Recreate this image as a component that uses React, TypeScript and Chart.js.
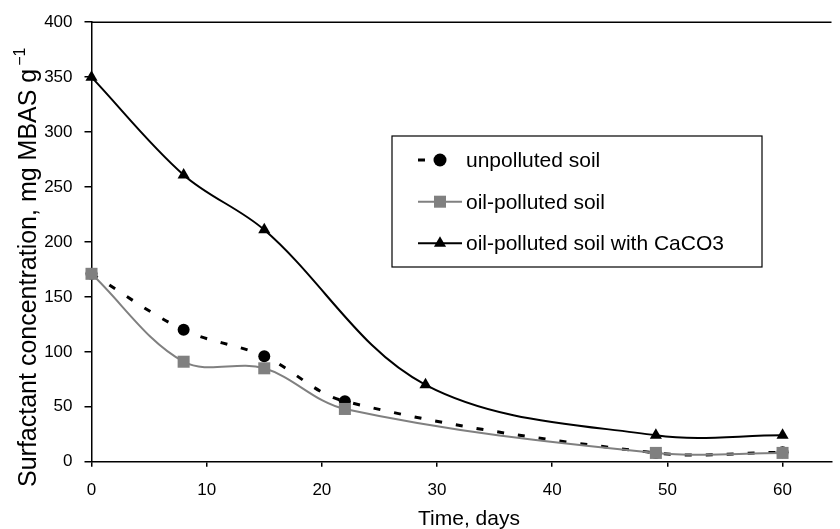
import React, { useEffect, useRef } from 'react';
import { Chart, registerables } from 'chart.js';

Chart.register(...registerables);

// ---- data ----
const unpollutedDays = [0, 8, 15, 22, 49, 60];
const unpollutedValues = [171, 120, 96, 55, 8, 8.5];
const oilDays = [0, 8, 15, 22, 49, 60];
const oilValues = [171, 91, 85, 48, 8, 8];
const caco3Days = [0, 8, 15, 29, 49, 60];
const caco3Values = [350, 261, 211, 70, 24, 24];
const seriesLabels = ['unpolluted soil', 'oil-polluted soil', 'oil-polluted soil with CaCO3'];
const xTitle = 'Time, days';
const yTitle = 'Surfactant concentration, mg MBAS g';
const yTitleSup = '−1';

const FONT = '"Liberation Sans", Arial, Helvetica, sans-serif';
const GREY = '#808080';

function toPoints(xs: number[], ys: number[]) {
  return xs.map((x, i) => ({ x, y: ys[i] }));
}

export default function App() {
  const ref = useRef<HTMLCanvasElement>(null);

  useEffect(() => {
    document.body.style.margin = '0';
    const canvas = ref.current;
    if (!canvas) return;

    const decor = {
      id: 'decor',
      afterDraw(chart: any) {
        const ctx = chart.ctx as CanvasRenderingContext2D;
        const a = chart.chartArea;
        ctx.save();
        // top frame line
        ctx.strokeStyle = '#000';
        ctx.lineWidth = 1.5;
        ctx.beginPath();
        ctx.moveTo(a.left, a.top);
        ctx.lineTo(a.right, a.top);
        ctx.stroke();

        // legend box
        const bx = 392, by = 136, bw = 370, bh = 131;
        ctx.fillStyle = '#fff';
        ctx.fillRect(bx, by, bw, bh);
        ctx.strokeStyle = '#000';
        ctx.lineWidth = 1.2;
        ctx.strokeRect(bx, by, bw, bh);

        const rows = [160, 201.7, 243.3];
        const lx0 = 418, lx1 = 462, mx = 440;
        ctx.font = `21px ${FONT}`;
        ctx.textAlign = 'left';
        ctx.textBaseline = 'alphabetic';
        rows.forEach((ry, i) => {
          ctx.save();
          let end = lx1;
          if (i === 0) {
            ctx.strokeStyle = '#000';
            ctx.lineWidth = 3;
            ctx.setLineDash([7, 14]);
            end = 448;
          } else if (i === 1) {
            ctx.strokeStyle = GREY;
            ctx.lineWidth = 2;
          } else {
            ctx.strokeStyle = '#000';
            ctx.lineWidth = 2;
          }
          ctx.beginPath();
          ctx.moveTo(lx0, ry);
          ctx.lineTo(end, ry);
          ctx.stroke();
          ctx.restore();
          if (i === 0) {
            ctx.fillStyle = '#000';
            ctx.beginPath();
            ctx.arc(mx, ry, 6.5, 0, Math.PI * 2);
            ctx.fill();
          } else if (i === 1) {
            ctx.fillStyle = GREY;
            ctx.fillRect(mx - 6, ry - 6, 12, 12);
          } else {
            ctx.fillStyle = '#000';
            const r = 7;
            ctx.beginPath();
            ctx.moveTo(mx, ry - r);
            ctx.lineTo(mx + r * Math.sin((2 * Math.PI) / 3), ry - r * Math.cos((2 * Math.PI) / 3));
            ctx.lineTo(mx + r * Math.sin((4 * Math.PI) / 3), ry - r * Math.cos((4 * Math.PI) / 3));
            ctx.closePath();
            ctx.fill();
          }
          ctx.fillStyle = '#000';
          ctx.fillText(seriesLabels[i], 466, ry + 7);
        });

        // x title
        ctx.font = `21px ${FONT}`;
        ctx.textAlign = 'center';
        ctx.fillStyle = '#000';
        ctx.fillText(xTitle, 469, 525);

        // y title (rotated) with superscript
        ctx.save();
        ctx.translate(36, 487);
        ctx.rotate(-Math.PI / 2);
        ctx.textAlign = 'left';
        ctx.font = `25px ${FONT}`;
        ctx.fillText(yTitle, 0, 0);
        const w = ctx.measureText(yTitle).width;
        ctx.font = `16px ${FONT}`;
        ctx.fillText(yTitleSup, w + 3, -11);
        ctx.restore();

        ctx.restore();
      },
    };

    const chart = new Chart(canvas, {
      type: 'line',
      data: {
        datasets: [
          {
            label: seriesLabels[0],
            data: toPoints(unpollutedDays, unpollutedValues),
            borderColor: '#000',
            borderWidth: 3,
            borderDash: [7, 14],
            pointStyle: 'circle',
            pointRadius: 6,
            pointBackgroundColor: '#000',
            pointBorderWidth: 0,
            tension: 0.35,
            order: 2,
            clip: false as any,
          },
          {
            label: seriesLabels[1],
            data: toPoints(oilDays, oilValues),
            borderColor: GREY,
            borderWidth: 2,
            pointStyle: 'rect',
            pointRadius: 8.5,
            pointBackgroundColor: GREY,
            pointBorderWidth: 0,
            tension: 0.35,
            order: 1,
            clip: false as any,
          },
          {
            label: seriesLabels[2],
            data: toPoints(caco3Days, caco3Values),
            borderColor: '#000',
            borderWidth: 2,
            pointStyle: 'triangle',
            pointRadius: 7,
            pointBackgroundColor: '#000',
            pointBorderWidth: 0,
            tension: 0.35,
            order: 0,
            clip: false as any,
          },
        ],
      },
      options: {
        animation: false,
        responsive: false,
        layout: { padding: { top: 21.7, left: 0, right: 0, bottom: 0 } },
        plugins: {
          legend: { display: false },
          tooltip: { enabled: false },
          title: { display: false },
        },
        scales: {
          x: {
            type: 'linear',
            min: 0,
            max: 64.25,
            ticks: {
              stepSize: 10,
              includeBounds: false,
              color: '#000',
              padding: 13,
              font: { family: FONT, size: 17 },
              maxRotation: 0,
            },
            grid: {
              drawOnChartArea: false,
              drawTicks: true,
              tickLength: 5,
              color: '#000',
              lineWidth: 1.5,
            },
            border: { color: '#000', width: 1.5 },
            afterFit: (s: any) => {
              s.height = 67.3;
            },
          },
          y: {
            type: 'linear',
            min: 0,
            max: 400,
            ticks: {
              stepSize: 50,
              color: '#000',
              padding: 12,
              font: { family: FONT, size: 17 },
            },
            grid: {
              drawOnChartArea: false,
              drawTicks: true,
              tickLength: 7,
              color: '#000',
              lineWidth: 1.5,
            },
            border: { color: '#000', width: 1.5 },
            afterFit: (s: any) => {
              s.width = 91.5;
            },
          },
        },
      },
      plugins: [decor],
    });

    return () => chart.destroy();
  }, []);

  return (
    <div style={{ position: 'absolute', left: 0, top: 0, width: 840, height: 529 }}>
      <canvas ref={ref} width={840} height={529} style={{ display: 'block', width: 840, height: 529 }} />
    </div>
  );
}
